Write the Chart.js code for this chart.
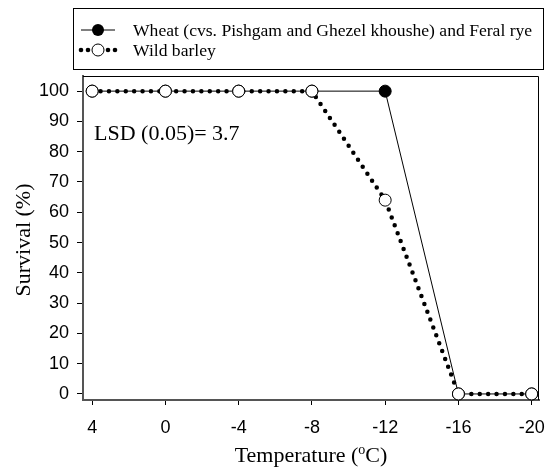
<!DOCTYPE html>
<html>
<head>
<meta charset="utf-8">
<script src="https://cdn.jsdelivr.net/npm/chart.js@4"></script>
<style>
  html, body { margin: 0; padding: 0; background: #fff; }
  #wrap { width: 548px; height: 467px; }
</style>
</head>
<body>
<div id="wrap"><canvas id="myChart" width="548" height="467"></canvas></div>
<script>
// Temperatures on the x axis (deg C)
var temps = [4, 0, -4, -8, -12, -16, -20];
// Survival (%)
var wheat = [100, 100, 100, 100, 100, 0, 0];
var barley = [100, 100, 100, 100, 64, 0, 0];
var yTicks = [0, 10, 20, 30, 40, 50, 60, 70, 80, 90, 100];
var seriesNames = ['Wheat (cvs. Pishgam and Ghezel khoushe) and Feral rye', 'Wild barley'];
var lsdText = 'LSD (0.05)= 3.7';

function toPoints(vals) {
    return temps.map(function (t, i) { return { x: t, y: vals[i] }; });
}

/* frame, legend box, annotations and axis titles */
var extras = {
    id: 'extras',
    afterDraw: function (chart) {
        var ctx = chart.ctx;
        var a = chart.chartArea;
        ctx.save();

        // thin top + right frame
        ctx.strokeStyle = '#000';
        ctx.lineWidth = 1;
        ctx.beginPath();
        ctx.moveTo(a.left, a.top + 0.5);
        ctx.lineTo(a.right - 0.5, a.top + 0.5);
        ctx.lineTo(a.right - 0.5, a.bottom);
        ctx.stroke();

        // legend box
        ctx.strokeRect(73.5, 8.5, 470, 61);
        ctx.font = '17.6px "Liberation Serif"';
        ctx.fillStyle = '#000';
        ctx.textBaseline = 'middle';
        ctx.textAlign = 'left';

        // row 1 : solid line + filled dot
        var y1 = 30;
        ctx.lineWidth = 1;
        ctx.beginPath();
        ctx.moveTo(81, y1); ctx.lineTo(115, y1);
        ctx.stroke();
        ctx.beginPath();
        ctx.arc(98, y1, 6, 0, Math.PI * 2);
        ctx.fill();
        ctx.fillText(seriesNames[0], 133, y1 + 1);

        // row 2 : dotted + open circle
        var y2 = 50;
        [81, 88, 108, 115].forEach(function (x) {
            ctx.beginPath();
            ctx.arc(x, y2, 2.3, 0, Math.PI * 2);
            ctx.fill();
        });
        ctx.beginPath();
        ctx.arc(98, y2, 6, 0, Math.PI * 2);
        ctx.fillStyle = '#fff';
        ctx.fill();
        ctx.stroke();
        ctx.fillStyle = '#000';
        ctx.fillText(seriesNames[1], 133, y2 + 1);

        // LSD note
        ctx.font = '22px "Liberation Serif"';
        ctx.fillText(lsdText, 94, 134);

        // x title with superscript o
        var p1 = 'Temperature (', p2 = 'o', p3 = 'C)';
        ctx.font = '22px "Liberation Serif"';
        var w1 = ctx.measureText(p1).width;
        var w3 = ctx.measureText(p3).width;
        ctx.font = '14px "Liberation Serif"';
        var w2 = ctx.measureText(p2).width;
        var cx = (a.left + a.right) / 2;
        var sx = cx - (w1 + w2 + w3) / 2;
        var by = 462;
        ctx.textBaseline = 'alphabetic';
        ctx.font = '22px "Liberation Serif"';
        ctx.fillText(p1, sx, by);
        ctx.font = '14px "Liberation Serif"';
        ctx.fillText(p2, sx + w1, by - 8);
        ctx.font = '22px "Liberation Serif"';
        ctx.fillText(p3, sx + w1 + w2, by);

        // y title
        ctx.translate(24, (a.top + a.bottom) / 2 + 2);
        ctx.rotate(-Math.PI / 2);
        ctx.textAlign = 'center';
        ctx.textBaseline = 'middle';
        ctx.fillText('Survival (%)', 0, 0);
        ctx.restore();
    }
};

const data = {
    datasets: [{
        label: seriesNames[1],
        data: toPoints(barley),
        borderColor: '#000',
        borderWidth: 4.5,
        borderDash: [0, 8.4],
        borderCapStyle: 'round',
        pointRadius: 6,
        pointBackgroundColor: '#fff',
        pointBorderColor: '#000',
        pointBorderWidth: 1,
        order: 1,
        clip: false
    }, {
        label: seriesNames[0],
        data: toPoints(wheat),
        borderColor: '#000',
        borderWidth: 1,
        pointRadius: 6,
        pointBackgroundColor: '#000',
        pointBorderColor: '#000',
        order: 2,
        clip: false
    }]
};

const config = {
    type: 'line',
    data: data,
    options: {
        responsive: false,
        animation: false,
        layout: { padding: { left: 0, top: 76, right: 9, bottom: 0 } },
        plugins: {
            legend: { display: false },
            tooltip: { enabled: false }
        },
        scales: {
            x: {
                type: 'linear',
                reverse: true,
                min: -20.4,
                max: 4.5,
                afterBuildTicks: function (axis) {
                    axis.ticks = temps.map(function (v) { return { value: v }; });
                },
                afterFit: function (axis) {
                    axis.height = 67;
                    axis.paddingLeft = 0;
                    axis.paddingRight = 0;
                },
                grid: { drawOnChartArea: false, tickLength: 5, color: '#000' },
                border: { color: '#555', width: 2 },
                ticks: {
                    color: '#000',
                    padding: 12,
                    font: { family: 'Liberation Sans', size: 18 }
                }
            },
            y: {
                min: -2,
                max: 105,
                afterBuildTicks: function (axis) {
                    axis.ticks = yTicks.map(function (v) { return { value: v }; });
                },
                afterFit: function (axis) {
                    axis.width = 83;
                    axis.paddingTop = 0;
                    axis.paddingBottom = 0;
                },
                grid: { drawOnChartArea: false, tickLength: 6, color: '#000' },
                border: { color: '#555', width: 2 },
                ticks: {
                    color: '#000',
                    padding: 8,
                    font: { family: 'Liberation Sans', size: 18 }
                }
            }
        }
    },
    plugins: [extras]
};

const myChart = new Chart(document.getElementById('myChart'), config);
</script>
</body>
</html>
